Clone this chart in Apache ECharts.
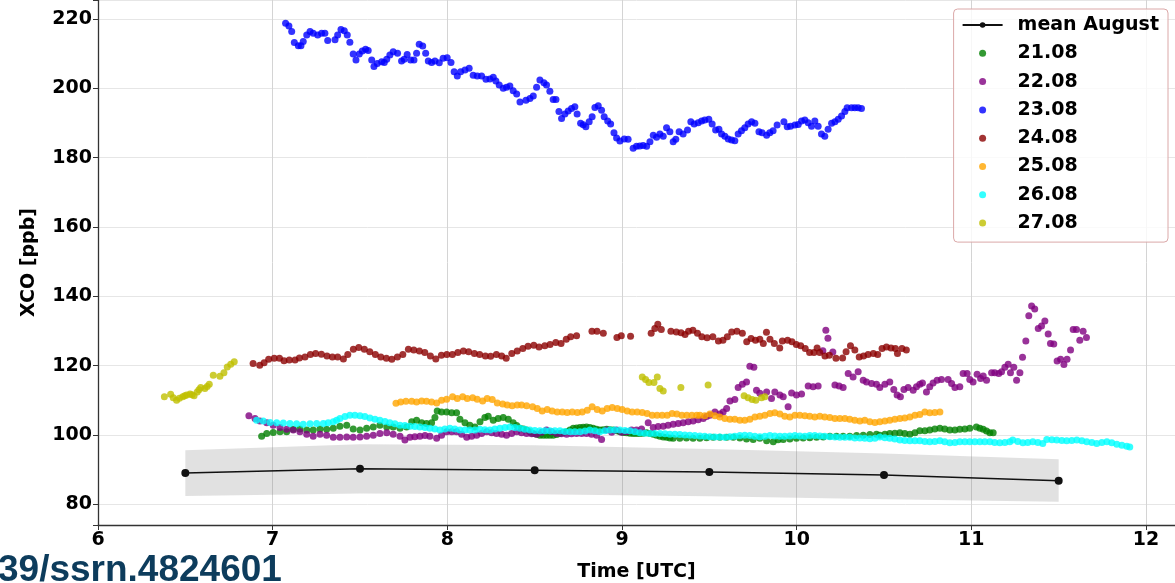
<!DOCTYPE html>
<html><head><meta charset="utf-8">
<script src="https://cdn.jsdelivr.net/npm/echarts@6/dist/echarts.min.js"></script>
<style>html,body{margin:0;padding:0;background:#fff}#c{width:1175px;height:583px}</style>
</head><body><div id="c"></div>
<script>
// ---- data (time in hours UTC, XCO in ppb) ----
const meanTimes = [6.5, 7.5, 8.5, 9.5, 10.5, 11.5];
const meanAugust = [89.0, 90.2, 89.8, 89.3, 88.4, 86.8];
const bandLow = [82.4, 83.1, 82.9, 82.3, 81.4, 80.7];
const bandHigh = [95.6, 97.3, 97.0, 95.9, 94.6, 93.0];

const dayNames = ['21.08', '22.08', '23.08', '24.08', '25.08', '26.08', '27.08'];

const d2108 = [[6.937,99.6],[6.966,100.4],[7.003,100.7],[7.042,100.9],[7.080,100.9],[7.118,101.6],[7.156,101.7],[7.195,101.4],[7.232,101.4],[7.271,101.7],[7.309,101.6],[7.347,101.9],[7.385,102.5],[7.424,102.8],[7.461,101.7],[7.500,101.4],[7.538,101.9],[7.576,102.3],[7.614,102.8],[7.653,102.3],[7.690,102.3],[7.729,101.9],[7.767,102.3],[7.796,103.8],[7.824,104.2],[7.853,103.5],[7.881,103.3],[7.910,103.5],[7.929,105.0],[7.942,106.9],[7.967,106.6],[7.996,106.6],[8.025,106.4],[8.053,106.4],[8.072,104.5],[8.101,103.5],[8.129,102.8],[8.158,102.3],[8.187,103.8],[8.215,105.0],[8.234,105.4],[8.263,104.2],[8.291,104.7],[8.320,105.0],[8.349,104.5],[8.377,103.5],[8.397,102.7],[8.416,101.9],[8.435,101.7],[8.454,101.4],[8.473,100.9],[8.492,100.4],[8.511,100.2],[8.530,99.9],[8.549,99.9],[8.568,99.9],[8.587,99.9],[8.606,99.9],[8.626,100.1],[8.645,100.4],[8.664,100.7],[8.683,100.9],[8.702,101.4],[8.721,101.9],[8.740,102.0],[8.759,102.1],[8.778,102.2],[8.797,102.3],[8.816,102.1],[8.835,101.9],[8.854,101.6],[8.873,101.4],[8.892,101.5],[8.912,101.6],[8.931,101.5],[8.950,101.4],[8.969,101.2],[8.988,100.9],[9.007,100.7],[9.026,100.6],[9.045,100.5],[9.064,100.4],[9.083,100.4],[9.102,100.4],[9.121,100.5],[9.141,100.6],[9.160,100.4],[9.179,100.2],[9.198,99.9],[9.217,99.6],[9.236,99.4],[9.255,99.3],[9.274,99.1],[9.293,99.0],[9.331,99.0],[9.369,99.1],[9.407,99.0],[9.446,99.0],[9.484,99.2],[9.522,99.3],[9.560,99.3],[9.599,99.3],[9.637,99.3],[9.675,99.1],[9.713,98.8],[9.751,98.7],[9.789,99.0],[9.828,98.3],[9.866,98.0],[9.894,98.6],[9.923,98.7],[9.961,98.8],[9.999,99.0],[10.037,99.1],[10.075,99.2],[10.114,99.3],[10.152,99.4],[10.190,99.6],[10.228,99.6],[10.266,99.6],[10.304,99.6],[10.343,99.8],[10.381,99.9],[10.419,100.1],[10.457,100.2],[10.476,99.9],[10.505,100.2],[10.533,100.4],[10.562,100.5],[10.591,100.6],[10.619,100.4],[10.648,100.2],[10.677,100.6],[10.705,101.2],[10.734,101.2],[10.762,101.4],[10.791,101.7],[10.820,101.9],[10.848,101.7],[10.877,101.4],[10.906,101.4],[10.934,101.6],[10.963,101.7],[10.991,101.9],[11.029,102.3],[11.049,101.9],[11.068,101.6],[11.087,101.1],[11.106,100.6],[11.125,100.6]];

const d2208 = [[6.864,105.5],[6.899,104.7],[6.927,104.0],[6.966,103.5],[7.003,102.8],[7.042,102.1],[7.080,101.6],[7.118,101.4],[7.156,100.9],[7.195,100.2],[7.232,99.6],[7.271,100.2],[7.309,99.9],[7.347,99.3],[7.385,99.3],[7.424,99.4],[7.461,99.3],[7.500,99.4],[7.538,99.6],[7.576,99.9],[7.614,100.4],[7.653,100.6],[7.690,100.2],[7.729,99.6],[7.757,98.5],[7.786,99.3],[7.814,99.5],[7.843,99.6],[7.872,99.8],[7.900,99.6],[7.939,99.0],[7.967,99.9],[7.996,100.9],[8.025,100.9],[8.053,100.9],[8.082,100.2],[8.111,99.3],[8.139,99.6],[8.168,99.9],[8.196,100.4],[8.225,100.9],[8.254,100.6],[8.282,100.4],[8.311,100.2],[8.339,99.9],[8.368,100.4],[8.397,100.9],[8.425,100.6],[8.454,100.4],[8.483,100.3],[8.511,100.2],[8.540,100.8],[8.568,101.4],[8.597,100.9],[8.626,100.4],[8.654,100.3],[8.683,100.2],[8.711,100.3],[8.740,100.4],[8.769,100.4],[8.797,100.4],[8.826,100.2],[8.855,99.9],[8.883,98.7],[8.912,101.4],[8.941,100.8],[8.969,101.4],[8.998,100.8],[9.026,100.9],[9.055,101.4],[9.083,101.4],[9.112,101.7],[9.150,103.5],[9.179,102.1],[9.207,102.4],[9.236,102.5],[9.264,102.8],[9.293,103.1],[9.322,103.3],[9.350,103.5],[9.379,103.8],[9.407,104.0],[9.436,104.4],[9.465,104.7],[9.484,105.3],[9.503,105.7],[9.532,106.6],[9.560,106.0],[9.579,106.6],[9.599,107.6],[9.618,109.8],[9.646,110.2],[9.665,113.7],[9.689,114.6],[9.713,115.3],[9.732,119.8],[9.755,119.5],[9.770,112.9],[9.789,112.0],[9.828,112.4],[9.856,110.5],[9.875,112.4],[9.904,111.5],[9.923,111.0],[9.951,108.1],[9.971,112.1],[9.999,111.5],[10.028,111.8],[10.066,114.1],[10.094,113.9],[10.123,114.1],[10.150,124.3],[10.167,130.2],[10.179,127.9],[10.207,123.9],[10.219,114.4],[10.243,114.1],[10.266,113.7],[10.295,117.7],[10.323,116.7],[10.352,118.2],[10.381,115.8],[10.400,115.3],[10.429,114.8],[10.457,114.6],[10.476,113.7],[10.505,114.6],[10.533,115.3],[10.556,113.1],[10.575,111.5],[10.594,111.0],[10.614,113.1],[10.638,113.7],[10.667,112.9],[10.686,113.9],[10.705,114.6],[10.720,115.0],[10.743,112.4],[10.762,113.9],[10.781,115.0],[10.804,115.8],[10.829,116.0],[10.867,116.0],[10.887,114.8],[10.906,113.7],[10.934,113.9],[10.953,117.7],[10.976,117.7],[10.991,116.0],[11.010,115.3],[11.033,117.5],[11.053,116.3],[11.068,117.0],[11.087,115.8],[11.116,117.9],[11.134,117.9],[11.157,117.7],[11.173,118.2],[11.192,119.5],[11.211,120.4],[11.224,117.9],[11.243,119.5],[11.259,115.8],[11.278,117.9],[11.293,122.4],[11.312,127.1],[11.329,134.4],[11.345,137.2],[11.363,136.3],[11.383,130.7],[11.402,131.4],[11.421,132.9],[11.440,129.1],[11.453,126.4],[11.472,126.2],[11.491,121.3],[11.511,121.8],[11.530,120.3],[11.548,121.8],[11.568,124.5],[11.583,130.4],[11.602,130.4],[11.621,127.3],[11.640,129.9],[11.659,128.1]];

const d2308 = [[7.074,218.8],[7.093,218.0],[7.109,216.4],[7.124,213.2],[7.147,212.3],[7.162,212.3],[7.175,213.5],[7.195,215.4],[7.214,216.4],[7.232,215.9],[7.258,215.4],[7.280,215.9],[7.299,215.9],[7.315,213.8],[7.357,214.0],[7.372,215.4],[7.391,217.0],[7.410,216.6],[7.427,215.4],[7.442,213.3],[7.461,209.9],[7.477,208.2],[7.496,209.9],[7.513,210.8],[7.532,211.3],[7.547,210.9],[7.567,208.2],[7.580,206.3],[7.599,207.2],[7.624,207.7],[7.639,207.5],[7.653,208.4],[7.671,209.6],[7.690,210.6],[7.715,210.1],[7.738,207.9],[7.753,208.4],[7.770,209.8],[7.790,208.2],[7.809,208.2],[7.824,210.1],[7.839,212.7],[7.859,212.2],[7.876,210.1],[7.891,207.9],[7.910,207.5],[7.929,207.9],[7.954,207.4],[7.976,208.7],[7.999,208.8],[8.021,207.5],[8.039,204.8],[8.057,203.6],[8.076,204.8],[8.101,205.3],[8.125,205.8],[8.148,203.8],[8.171,203.6],[8.196,203.6],[8.221,202.6],[8.244,202.7],[8.263,203.2],[8.278,202.1],[8.297,201.0],[8.320,200.0],[8.339,200.3],[8.358,200.7],[8.377,199.3],[8.397,198.4],[8.416,196.1],[8.450,196.6],[8.473,197.1],[8.492,197.8],[8.511,200.3],[8.530,202.4],[8.553,201.6],[8.568,201.0],[8.587,199.2],[8.606,196.8],[8.622,196.8],[8.639,193.3],[8.654,191.3],[8.673,192.6],[8.692,193.5],[8.711,194.2],[8.730,194.7],[8.743,192.6],[8.763,189.9],[8.778,189.5],[8.793,188.9],[8.812,190.4],[8.829,191.8],[8.845,194.5],[8.864,195.0],[8.883,193.7],[8.898,191.8],[8.918,190.6],[8.935,189.7],[8.954,187.2],[8.969,185.7],[8.988,184.8],[9.013,185.4],[9.035,185.3],[9.064,182.7],[9.083,183.3],[9.102,183.4],[9.121,183.5],[9.141,183.3],[9.160,184.6],[9.179,186.5],[9.198,185.9],[9.217,186.8],[9.236,186.2],[9.255,188.6],[9.274,187.5],[9.293,184.6],[9.308,185.3],[9.327,187.5],[9.350,186.8],[9.375,188.0],[9.394,190.4],[9.413,189.7],[9.436,190.1],[9.456,190.6],[9.474,190.9],[9.497,191.1],[9.516,189.7],[9.536,188.0],[9.555,188.2],[9.570,186.8],[9.589,186.2],[9.608,185.4],[9.627,185.1],[9.646,184.9],[9.665,186.8],[9.684,187.8],[9.703,188.6],[9.722,189.7],[9.742,190.4],[9.761,189.9],[9.784,187.5],[9.802,187.2],[9.828,186.5],[9.846,187.2],[9.865,187.8],[9.888,189.4],[9.927,190.4],[9.946,188.9],[9.965,189.1],[9.990,189.4],[10.009,189.6],[10.028,190.6],[10.047,190.9],[10.066,190.1],[10.085,189.1],[10.104,190.6],[10.123,189.1],[10.142,186.8],[10.161,186.2],[10.180,188.2],[10.200,189.9],[10.219,190.4],[10.238,191.1],[10.257,192.0],[10.276,193.3],[10.289,194.4],[10.314,194.4],[10.333,194.4],[10.352,194.4],[10.371,194.2]];

const d2408 = [[6.888,120.6],[6.926,120.1],[6.951,120.8],[6.977,121.8],[7.009,122.1],[7.039,122.1],[7.065,121.4],[7.095,121.6],[7.128,121.6],[7.153,122.2],[7.185,122.5],[7.216,123.2],[7.246,123.5],[7.279,123.3],[7.311,122.8],[7.342,122.5],[7.372,122.5],[7.405,121.9],[7.430,123.2],[7.462,124.7],[7.493,125.2],[7.525,124.7],[7.556,124.0],[7.588,123.2],[7.619,122.5],[7.651,122.1],[7.682,121.8],[7.714,122.5],[7.745,123.2],[7.777,124.7],[7.808,124.5],[7.840,124.2],[7.871,123.8],[7.903,122.8],[7.934,121.9],[7.966,123.0],[7.997,123.2],[8.029,123.2],[8.060,123.8],[8.092,124.2],[8.122,124.0],[8.155,123.5],[8.185,123.2],[8.218,122.8],[8.248,122.7],[8.281,123.2],[8.311,122.8],[8.337,122.1],[8.369,123.5],[8.400,124.2],[8.432,124.9],[8.462,125.6],[8.495,125.9],[8.525,125.4],[8.558,125.7],[8.588,126.1],[8.621,126.7],[8.651,126.4],[8.681,127.6],[8.706,128.3],[8.740,128.6],[8.828,129.9],[8.857,129.9],[8.893,129.3],[8.971,128.1],[8.996,128.6],[9.049,128.5],[9.167,129.3],[9.188,130.7],[9.205,131.9],[9.225,130.4],[9.280,129.9],[9.311,129.7],[9.338,129.5],[9.361,129.0],[9.381,129.9],[9.406,130.2],[9.432,129.3],[9.457,128.3],[9.487,128.0],[9.520,128.3],[9.552,127.1],[9.578,127.3],[9.603,128.3],[9.628,129.7],[9.658,129.9],[9.689,129.3],[9.714,126.9],[9.739,127.8],[9.764,127.3],[9.789,127.6],[9.809,126.4],[9.827,129.6],[9.847,127.6],[9.872,126.4],[9.903,125.1],[9.918,127.1],[9.948,127.3],[9.973,126.9],[9.998,126.1],[10.023,125.7],[10.049,124.9],[10.074,123.8],[10.099,123.8],[10.117,125.1],[10.132,123.8],[10.162,122.8],[10.187,123.0],[10.225,122.1],[10.263,122.2],[10.283,124.0],[10.308,125.7],[10.333,124.5],[10.358,122.5],[10.383,122.8],[10.409,123.2],[10.439,123.5],[10.464,123.2],[10.489,124.9],[10.514,125.4],[10.540,125.1],[10.565,124.9],[10.577,123.5],[10.603,124.9],[10.628,124.5]];

const d2508 = [[7.706,109.1],[7.733,109.5],[7.763,109.7],[7.796,109.7],[7.824,109.5],[7.853,109.8],[7.881,109.7],[7.910,109.5],[7.939,109.2],[7.967,110.0],[7.996,110.3],[8.030,111.0],[8.057,110.5],[8.088,111.0],[8.114,110.5],[8.145,110.7],[8.171,110.3],[8.202,109.8],[8.228,110.5],[8.257,110.2],[8.286,109.2],[8.317,108.9],[8.343,108.6],[8.371,108.4],[8.400,108.6],[8.425,108.6],[8.454,108.4],[8.488,108.1],[8.515,107.6],[8.543,106.9],[8.572,107.3],[8.600,106.9],[8.629,106.6],[8.658,106.6],[8.686,106.5],[8.715,106.6],[8.744,106.5],[8.772,106.6],[8.801,107.1],[8.829,108.1],[8.858,107.3],[8.887,106.9],[8.915,107.6],[8.944,107.9],[8.973,107.6],[9.001,107.3],[9.030,106.9],[9.058,106.6],[9.087,106.6],[9.116,106.5],[9.144,106.2],[9.173,105.7],[9.201,105.7],[9.230,105.7],[9.259,105.7],[9.287,106.2],[9.314,106.0],[9.343,105.7],[9.371,105.7],[9.400,105.7],[9.428,105.7],[9.446,105.7],[9.474,105.5],[9.503,106.0],[9.532,105.5],[9.560,105.2],[9.589,104.7],[9.618,104.5],[9.646,104.5],[9.675,104.2],[9.703,104.2],[9.732,104.5],[9.761,105.2],[9.789,105.4],[9.818,105.7],[9.847,106.2],[9.875,106.4],[9.904,106.0],[9.932,105.4],[9.961,105.2],[9.990,105.7],[10.018,105.7],[10.047,105.5],[10.075,105.4],[10.104,105.2],[10.133,105.4],[10.161,105.2],[10.190,105.0],[10.219,104.7],[10.247,104.7],[10.276,104.7],[10.304,104.5],[10.333,104.2],[10.362,104.0],[10.390,104.2],[10.419,103.8],[10.448,103.6],[10.476,103.8],[10.505,104.0],[10.533,104.2],[10.562,104.5],[10.591,104.7],[10.619,104.9],[10.648,105.2],[10.677,105.7],[10.705,105.9],[10.734,106.6],[10.762,106.4],[10.791,106.5],[10.820,106.6]];

const d2608 = [[6.908,104.2],[6.946,104.0],[6.985,103.6],[7.023,103.5],[7.061,103.4],[7.099,103.3],[7.137,103.2],[7.175,103.1],[7.214,103.2],[7.252,103.3],[7.290,103.3],[7.318,103.5],[7.347,103.8],[7.366,104.2],[7.385,104.7],[7.414,105.3],[7.442,105.7],[7.471,105.7],[7.500,105.5],[7.528,105.3],[7.557,104.9],[7.586,104.5],[7.614,104.2],[7.643,103.9],[7.671,103.5],[7.700,103.2],[7.729,102.8],[7.757,102.7],[7.786,102.5],[7.814,102.4],[7.843,102.3],[7.872,102.1],[7.900,101.9],[7.929,101.7],[7.958,101.4],[7.986,101.7],[8.015,101.9],[8.043,101.7],[8.072,101.4],[8.101,101.4],[8.129,101.4],[8.158,101.4],[8.187,101.6],[8.215,101.5],[8.244,101.4],[8.272,101.7],[8.301,101.9],[8.330,102.1],[8.358,102.3],[8.387,102.1],[8.416,101.9],[8.444,101.6],[8.473,101.4],[8.501,101.3],[8.530,101.2],[8.559,101.2],[8.587,101.2],[8.616,101.2],[8.645,101.2],[8.673,101.0],[8.702,100.9],[8.730,100.9],[8.759,100.9],[8.788,101.1],[8.816,101.4],[8.845,101.2],[8.873,100.9],[8.902,101.2],[8.931,101.4],[8.959,101.4],[8.988,101.4],[9.017,101.3],[9.045,101.2],[9.074,100.9],[9.102,100.6],[9.131,100.5],[9.160,100.4],[9.188,100.4],[9.217,100.4],[9.246,100.3],[9.274,100.2],[9.303,100.2],[9.331,100.1],[9.360,100.0],[9.388,99.9],[9.417,99.8],[9.446,99.7],[9.474,99.6],[9.503,99.5],[9.532,99.4],[9.560,99.4],[9.589,99.3],[9.618,99.5],[9.646,99.6],[9.675,99.8],[9.703,99.9],[9.732,99.8],[9.761,99.6],[9.789,99.5],[9.818,99.6],[9.847,99.8],[9.875,99.7],[9.904,99.6],[9.932,99.6],[9.961,99.7],[9.990,99.8],[10.018,99.7],[10.047,99.6],[10.075,99.8],[10.104,99.8],[10.133,99.7],[10.161,99.6],[10.190,99.5],[10.219,99.4],[10.247,99.3],[10.276,99.3],[10.304,99.3],[10.333,99.1],[10.362,99.1],[10.390,99.0],[10.419,98.9],[10.448,99.0],[10.476,99.4],[10.505,99.2],[10.533,99.0],[10.562,98.8],[10.591,98.5],[10.619,98.4],[10.648,98.3],[10.677,98.3],[10.705,98.3],[10.734,98.1],[10.762,98.0],[10.791,98.1],[10.820,98.3],[10.848,98.0],[10.877,97.7],[10.906,97.8],[10.934,98.0],[10.963,98.0],[10.991,98.0],[11.020,98.0],[11.049,98.0],[11.077,98.0],[11.106,98.0],[11.134,97.8],[11.163,97.7],[11.192,97.8],[11.220,98.0],[11.237,98.5],[11.266,98.1],[11.295,97.7],[11.323,97.8],[11.352,98.0],[11.381,97.8],[11.409,97.5],[11.432,98.7],[11.461,98.6],[11.489,98.5],[11.518,98.4],[11.546,98.3],[11.575,98.4],[11.604,98.5],[11.633,98.3],[11.661,98.0],[11.690,97.8],[11.718,97.5],[11.747,97.8],[11.776,98.0],[11.804,97.7],[11.833,97.3],[11.862,97.0],[11.890,96.7],[11.907,96.5]];

const d2708 = [[6.380,111.0],[6.416,111.7],[6.431,110.7],[6.450,110.0],[6.466,110.6],[6.485,111.0],[6.497,111.3],[6.508,111.5],[6.527,111.8],[6.538,111.6],[6.550,111.3],[6.568,112.4],[6.578,113.0],[6.588,113.7],[6.612,113.4],[6.625,114.0],[6.637,114.6],[6.660,117.2],[6.698,116.9],[6.721,117.9],[6.740,119.6],[6.760,120.4],[6.780,121.1],[9.116,116.7],[9.135,116.0],[9.154,115.1],[9.183,115.1],[9.202,116.7],[9.217,113.4],[9.236,112.7],[9.337,113.7],[9.493,114.4],[9.699,111.3],[9.722,110.7],[9.745,110.2],[9.766,110.0],[9.799,110.7],[9.818,111.0]];

const daySets = [d2108, d2208, d2308, d2408, d2508, d2608, d2708];

// ---- styles ----
const dayColors = ['#008000', '#800080', '#0000ff', '#8b0000', '#ffa500', '#00ffff', '#bfbf00'];
const FONT = 'DejaVu Sans';
const boldText = {fontFamily: FONT, fontWeight: 'bold', fontSize: 19, color: '#000'};

const chart = echarts.init(document.getElementById('c'), null, {renderer: 'canvas'});

const bandData = meanTimes.map((t, i) => [t, bandLow[i], bandHigh[i]]);

const series = [
  {name: 'band', type: 'custom', silent: true, z: 1, clip: true,
   data: bandData,
   encode: {x: 0, y: [1, 2]},
   renderItem: function (params, api) {
     if (params.dataIndex !== 0) return null;
     const pts = [];
     for (let i = 0; i < bandData.length; i++) pts.push(api.coord([bandData[i][0], bandData[i][2]]));
     for (let i = bandData.length - 1; i >= 0; i--) pts.push(api.coord([bandData[i][0], bandData[i][1]]));
     return {type: 'polygon', shape: {points: pts}, style: {fill: 'rgba(128,128,128,0.24)'}};
   }},
  {name: 'mean August', type: 'line', symbol: 'circle', symbolSize: 8, z: 3,
   itemStyle: {color: '#111'}, lineStyle: {color: '#111', width: 1.5},
   data: meanTimes.map((t, i) => [t, meanAugust[i]])}
];
dayNames.forEach((n, k) => {
  series.push({name: n, type: 'scatter', symbol: 'circle', symbolSize: 7, z: 4 + k,
    itemStyle: {color: dayColors[k], opacity: 0.8}, data: daySets[k]});
});

chart.setOption({
  animation: false,
  backgroundColor: '#fff',
  grid: {left: 98, right: 0, top: 0, bottom: 58, containLabel: false, outerBoundsMode: 'none'},
  xAxis: {
    type: 'value', min: 6, max: 12.166, interval: 1,
    axisLine: {show: true, lineStyle: {color: '#333', width: 1.3}},
    axisTick: {show: true, length: 5, lineStyle: {color: '#333'}},
    axisLabel: Object.assign({margin: 6, formatter: v => Number.isInteger(v) ? String(v) : ''}, boldText),
    splitLine: {show: true, lineStyle: {color: '#d4d4d4', width: 1}},
    name: 'Time [UTC]', nameLocation: 'middle', nameGap: 38, nameTextStyle: boldText
  },
  yAxis: {
    type: 'value', min: 74, max: 225.5, splitNumber: 7,
    axisLine: {show: true, lineStyle: {color: '#333', width: 1.3}},
    axisTick: {show: true, length: 5, lineStyle: {color: '#333'}},
    axisLabel: Object.assign({margin: 6, formatter: v => (v % 20 === 0) ? String(v) : ''}, boldText),
    splitLine: {show: true, lineStyle: {color: '#e6e6e6', width: 1}},
    name: 'XCO [ppb]', nameLocation: 'middle', nameGap: 59, nameRotate: 90, nameTextStyle: boldText
  },
  legend: {
    orient: 'vertical', right: 7, top: 9,
    itemWidth: 40, itemHeight: 7, itemGap: 6.3,
    padding: [5, 9, 8, 8],
    backgroundColor: 'rgba(255,255,255,0.8)', borderColor: '#dba8a8', borderWidth: 1, borderRadius: 4,
    textStyle: {fontFamily: FONT, fontWeight: 'bold', fontSize: 19, color: '#000', lineHeight: 22, padding: [0, 0, 0, 10]},
    selectedMode: false,
    data: ['mean August'].concat(dayNames)
  },
  graphic: [{
    type: 'text', x: -2, y: 552, z: 100,
    style: {text: '39/ssrn.4824601', fill: '#0d3c5c', fontFamily: 'Liberation Sans', fontWeight: 'bold', fontSize: 37, verticalAlign: 'top'}
  }],
  series: series
});
</script>
</body></html>
